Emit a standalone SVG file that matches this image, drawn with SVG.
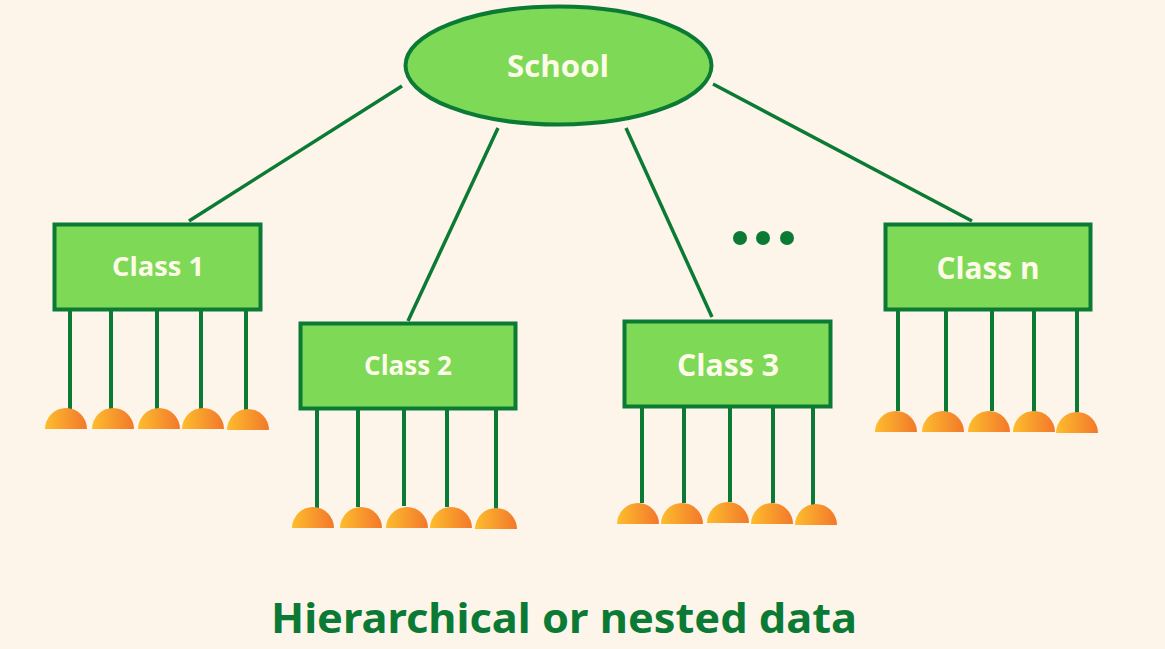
<svg xmlns="http://www.w3.org/2000/svg" width="1165" height="649" viewBox="0 0 1165 649">
<defs>
<linearGradient id="og" x1="0" y1="0" x2="1" y2="0">
<stop offset="0" stop-color="#fdbd2e"/>
<stop offset="1" stop-color="#f2782b"/>
</linearGradient>
<style>
.bg{fill:#fdf5e9}
.node{fill:#7ed957;stroke:#0b7a34;stroke-width:4}
.lbl{font-family:"Open Sans","Noto Sans",sans-serif;font-weight:bold;fill:#fdfbe8;text-anchor:middle}
.edge{stroke:#0b7a34;stroke-width:3.5;fill:none;stroke-linecap:butt}
.stem{stroke:#0b7a34;stroke-width:4;fill:none}
.leaf{fill:url(#og)}
.dot{fill:#0b7a34}
.title{font-family:"Noto Sans","Open Sans",sans-serif;font-weight:bold;fill:#0b7a34;text-anchor:middle}
</style>
</defs>
<rect class="bg" width="1165" height="649"/>
<g id="connectors">
<line class="edge" x1="402" y1="86" x2="189" y2="221"/>
<line class="edge" x1="498" y1="128" x2="408" y2="321"/>
<line class="edge" x1="626" y1="128" x2="712" y2="317"/>
<line class="edge" x1="713" y1="84" x2="972" y2="221"/>
<path class="stem" d="M70 311V410M111 311V410M157 311V409M201 311V410M246 311V410"/>
<path class="stem" d="M317 409V508M358 409V507M404 409V506M447 409V507M496 409V509"/>
<path class="stem" d="M642 407V503M684 407V503M730 407V502M773 407V503M813 407V505"/>
<path class="stem" d="M898 311V411M946 311V412M992 311V411M1034 311V412M1077 311V413"/>
</g>
<g id="school">
<ellipse class="node" cx="558.5" cy="65.5" rx="153" ry="59"/>
<text class="lbl" x="558" y="77" font-size="31" textLength="102" lengthAdjust="spacingAndGlyphs">School</text>
</g>
<g id="class1">
<rect class="node" x="54.5" y="224.5" width="206" height="85"/>
<text class="lbl" x="158" y="276" font-size="27" textLength="92" lengthAdjust="spacingAndGlyphs">Class 1</text>
</g>
<g id="class2">
<rect class="node" x="300.5" y="323.5" width="215" height="85"/>
<text class="lbl" x="408" y="375" font-size="26" textLength="88" lengthAdjust="spacingAndGlyphs">Class 2</text>
</g>
<g id="class3">
<rect class="node" x="624.5" y="321.5" width="206" height="85"/>
<text class="lbl" x="728" y="376" font-size="30" textLength="102" lengthAdjust="spacingAndGlyphs">Class 3</text>
</g>
<g id="classn">
<rect class="node" x="885.5" y="224.5" width="205" height="85"/>
<text class="lbl" x="988" y="279" font-size="30" textLength="103" lengthAdjust="spacingAndGlyphs">Class n</text>
</g>
<g id="ellipsis">
<circle class="dot" cx="740" cy="238" r="7"/>
<circle class="dot" cx="763" cy="238" r="7"/>
<circle class="dot" cx="787" cy="238" r="7"/>
</g>
<g id="leaves1">
<path class="leaf" d="M45 429a21 21 0 0 1 42 0z"/>
<path class="leaf" d="M92 429a21 21 0 0 1 42 0z"/>
<path class="leaf" d="M138 429a21 21 0 0 1 42 0z"/>
<path class="leaf" d="M182 429a21 21 0 0 1 42 0z"/>
<path class="leaf" d="M227 430a21 21 0 0 1 42 0z"/>
</g>
<g id="leaves2">
<path class="leaf" d="M292 528a21 21 0 0 1 42 0z"/>
<path class="leaf" d="M340 528a21 21 0 0 1 42 0z"/>
<path class="leaf" d="M386 528a21 21 0 0 1 42 0z"/>
<path class="leaf" d="M430 528a21 21 0 0 1 42 0z"/>
<path class="leaf" d="M475 529a21 21 0 0 1 42 0z"/>
</g>
<g id="leaves3">
<path class="leaf" d="M617 524a21 21 0 0 1 42 0z"/>
<path class="leaf" d="M661 524a21 21 0 0 1 42 0z"/>
<path class="leaf" d="M707 523a21 21 0 0 1 42 0z"/>
<path class="leaf" d="M751 524a21 21 0 0 1 42 0z"/>
<path class="leaf" d="M795 525a21 21 0 0 1 42 0z"/>
</g>
<g id="leavesn">
<path class="leaf" d="M875 432a21 21 0 0 1 42 0z"/>
<path class="leaf" d="M922 432a21 21 0 0 1 42 0z"/>
<path class="leaf" d="M968 432a21 21 0 0 1 42 0z"/>
<path class="leaf" d="M1013 432a21 21 0 0 1 42 0z"/>
<path class="leaf" d="M1056 433a21 21 0 0 1 42 0z"/>
</g>
<g id="title">
<text class="title" x="564" y="633" font-size="42" textLength="586" lengthAdjust="spacingAndGlyphs">Hierarchical or nested data</text>
</g>
</svg>
